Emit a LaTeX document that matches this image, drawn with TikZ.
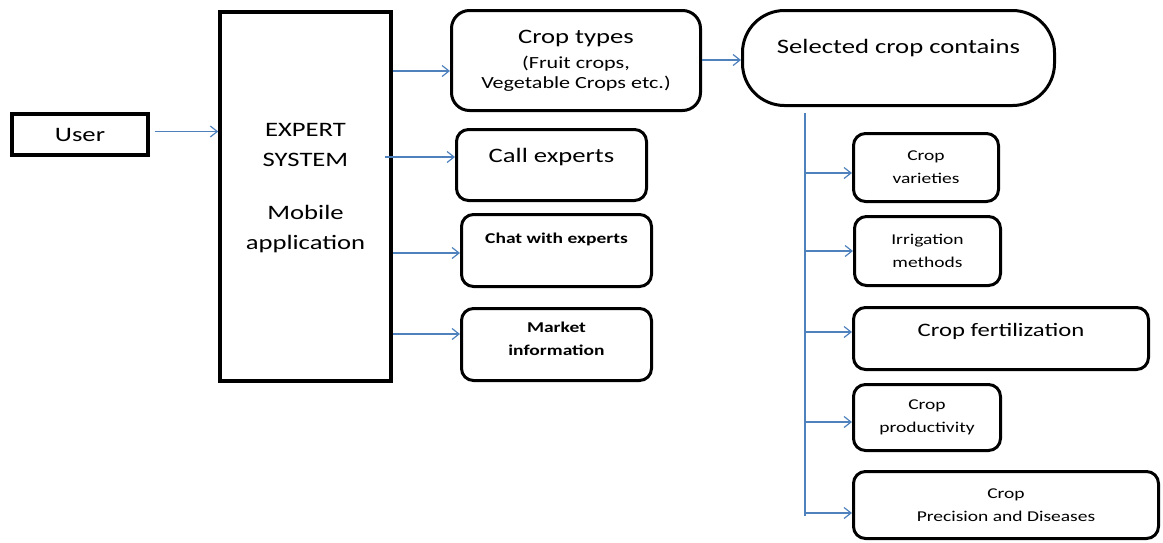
\documentclass[tikz,border=0pt]{standalone}
\usepackage{fontspec}
\setmainfont{Carlito}[FakeStretch=1.3]
\usetikzlibrary{arrows.meta}
\definecolor{linkblue}{RGB}{79,129,189}
\newcommand{\bigtxt}{\fontsize{20.5}{30}\selectfont}
\newcommand{\midtxt}{\fontsize{17}{20}\selectfont}
\newcommand{\smalltxt}{\fontsize{15}{23}\selectfont}

\begin{document}
\begin{tikzpicture}[x=1pt, y=-1pt,
		plainbox/.style={draw, line width=3.5pt, align=center, inner sep=0pt},
		roundbox/.style={draw, line width=3pt, rounded corners=12pt, align=center, inner sep=0pt},
		flow/.style={draw=linkblue, line width=1.2pt, -{Straight Barb[length=7pt, width=11pt]}},
		link/.style={draw=linkblue, line width=1.2pt}]
	\useasboundingbox (0,0) rectangle (1163,542);

	% left side
	\node[plainbox, minimum width=136pt, minimum height=41pt, font=\bigtxt] (user) at (80,134.5) {User};
	\node[plainbox, minimum width=171pt, minimum height=369pt, font=\bigtxt, text depth=20pt] (expert) at (305.5,196.5) {EXPERT\\SYSTEM\\[23pt]Mobile\\application};

	% middle column
	\node[roundbox, rounded corners=18pt, minimum width=249pt, minimum height=100pt, font=\midtxt] (types) at (576,60.5)
		{{\bigtxt Crop types}\\[5pt](Fruit crops,\\Vegetable Crops etc.)};
	\node[roundbox, minimum width=190pt, minimum height=71pt, font=\bigtxt, text height=14pt, text depth=20pt] (call) at (551.5,165) {Call experts};
	\node[roundbox, minimum width=190pt, minimum height=72pt, font=\smalltxt\bfseries, text height=12pt, text depth=27pt] (chat) at (556.5,250.5) {Chat with experts};
	\node[roundbox, minimum width=190pt, minimum height=72pt, font=\smalltxt\bfseries, text depth=12pt] (market) at (556.5,344.5) {Market\\information};

	% right side
	\node[roundbox, rounded corners=42pt, minimum width=312pt, minimum height=95pt, font=\bigtxt, text height=14pt, text depth=23pt] (sel) at (898.5,58) {Selected crop contains};
	\node[roundbox, minimum width=145pt, minimum height=68pt, font=\smalltxt] (var) at (926,167.5) {Crop\\varieties};
	\node[roundbox, minimum width=146pt, minimum height=69pt, font=\smalltxt] (irr) at (927.5,251) {Irrigation\\methods};
	\node[roundbox, minimum width=295pt, minimum height=62pt, font=\fontsize{19}{24}\selectfont, text height=14pt, text depth=19pt] (fert) at (1001,338.5) {Crop fertilization};
	\node[roundbox, minimum width=147pt, minimum height=66pt, font=\smalltxt] (prod) at (927,417.5) {Crop\\productivity};
	\node[roundbox, minimum width=305pt, minimum height=67pt, font=\smalltxt] (prec) at (1006,505) {Crop\\Precision and Diseases};

	% connectors
	\draw[flow] (user.east) ++(5,-3) coordinate (u1) -- (expert.west |- u1);
	\draw[flow] (expert.east |- 0,71) -- (types.west |- 0,71);
	\draw[flow] ([xshift=-8pt]expert.east |- 0,157) -- (call.west |- 0,157);
	\draw[flow] (expert.east |- 0,253) -- (chat.west |- 0,253);
	\draw[flow] (expert.east |- 0,334) -- (market.west |- 0,334);
	\draw[flow] (types.east |- 0,60) -- (sel.west |- 0,60);

	\coordinate (trunk) at (805,113);
	\coordinate (trunkend) at (805,516);
	\draw[link] (trunk) -- (trunkend);
	\draw[flow] (trunk |- 0,173) -- (var.west |- 0,173);
	\draw[flow] (trunk |- 0,251) -- (irr.west |- 0,251);
	\draw[flow] (trunk |- 0,332) -- (fert.west |- 0,332);
	\draw[flow] (trunk |- 0,422) -- (prod.west |- 0,422);
	\draw[flow] (trunk |- 0,513) -- (prec.west |- 0,513);
\end{tikzpicture}
\end{document}
